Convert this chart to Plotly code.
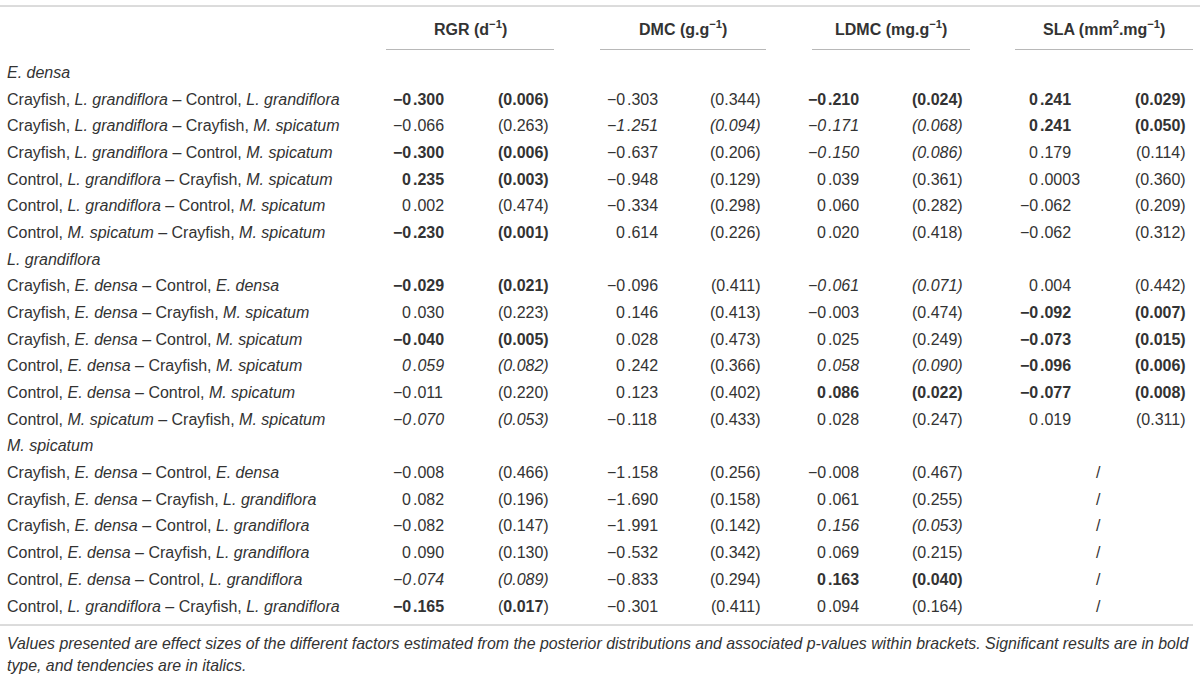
import plotly.graph_objects as go

# Table contents
groups = ["E. densa", "L. grandiflora", "M. spicatum"]

row_labels = [
    "Crayfish, <i>L. grandiflora</i> – Control, <i>L. grandiflora</i>",
    "Crayfish, <i>L. grandiflora</i> – Crayfish, <i>M. spicatum</i>",
    "Crayfish, <i>L. grandiflora</i> – Control, <i>M. spicatum</i>",
    "Control, <i>L. grandiflora</i> – Crayfish, <i>M. spicatum</i>",
    "Control, <i>L. grandiflora</i> – Control, <i>M. spicatum</i>",
    "Control, <i>M. spicatum</i> – Crayfish, <i>M. spicatum</i>",
    "Crayfish, <i>E. densa</i> – Control, <i>E. densa</i>",
    "Crayfish, <i>E. densa</i> – Crayfish, <i>M. spicatum</i>",
    "Crayfish, <i>E. densa</i> – Control, <i>M. spicatum</i>",
    "Control, <i>E. densa</i> – Crayfish, <i>M. spicatum</i>",
    "Control, <i>E. densa</i> – Control, <i>M. spicatum</i>",
    "Control, <i>M. spicatum</i> – Crayfish, <i>M. spicatum</i>",
    "Crayfish, <i>E. densa</i> – Control, <i>E. densa</i>",
    "Crayfish, <i>E. densa</i> – Crayfish, <i>L. grandiflora</i>",
    "Crayfish, <i>E. densa</i> – Control, <i>L. grandiflora</i>",
    "Control, <i>E. densa</i> – Crayfish, <i>L. grandiflora</i>",
    "Control, <i>E. densa</i> – Control, <i>L. grandiflora</i>",
    "Control, <i>L. grandiflora</i> – Crayfish, <i>L. grandiflora</i>",
]
rows_per_group = 6

trait_headers = ["RGR (d<sup>−1</sup>)", "DMC (g.g<sup>−1</sup>)",
                 "LDMC (mg.g<sup>−1</sup>)", "SLA (mm<sup>2</sup>.mg<sup>−1</sup>)"]

# b = significant (bold), i = tendency (italic), "" = plain, b* = only number bold
rgr_est = ["−0.300", "−0.066", "−0.300", "0.235", "0.002", "−0.230",
           "−0.029", "0.030", "−0.040", "0.059", "−0.011", "−0.070",
           "−0.008", "0.082", "−0.082", "0.090", "−0.074", "−0.165"]
rgr_p = ["0.006", "0.263", "0.006", "0.003", "0.474", "0.001",
         "0.021", "0.223", "0.005", "0.082", "0.220", "0.053",
         "0.466", "0.196", "0.147", "0.130", "0.089", "0.017"]
rgr_sig = ["b", "", "b", "b", "", "b",
           "b", "", "b", "i", "", "i",
           "", "", "", "", "i", "b*"]

dmc_est = ["−0.303", "−1.251", "−0.637", "−0.948", "−0.334", "0.614",
           "−0.096", "0.146", "0.028", "0.242", "0.123", "−0.118",
           "−1.158", "−1.690", "−1.991", "−0.532", "−0.833", "−0.301"]
dmc_p = ["0.344", "0.094", "0.206", "0.129", "0.298", "0.226",
         "0.411", "0.413", "0.473", "0.366", "0.402", "0.433",
         "0.256", "0.158", "0.142", "0.342", "0.294", "0.411"]
dmc_sig = ["", "i", "", "", "", "",
           "", "", "", "", "", "",
           "", "", "", "", "", ""]

ldmc_est = ["−0.210", "−0.171", "−0.150", "0.039", "0.060", "0.020",
            "−0.061", "−0.003", "0.025", "0.058", "0.086", "0.028",
            "−0.008", "0.061", "0.156", "0.069", "0.163", "0.094"]
ldmc_p = ["0.024", "0.068", "0.086", "0.361", "0.282", "0.418",
          "0.071", "0.474", "0.249", "0.090", "0.022", "0.247",
          "0.467", "0.255", "0.053", "0.215", "0.040", "0.164"]
ldmc_sig = ["b", "i", "i", "", "", "",
            "i", "", "", "i", "b", "",
            "", "", "i", "", "b", ""]

sla_est = ["0.241", "0.241", "0.179", "0.0003", "−0.062", "−0.062",
           "0.004", "−0.092", "−0.073", "−0.096", "−0.077", "0.019",
           "/", "/", "/", "/", "/", "/"]
sla_p = ["0.029", "0.050", "0.114", "0.360", "0.209", "0.312",
         "0.442", "0.007", "0.015", "0.006", "0.008", "0.311",
         "", "", "", "", "", ""]
sla_sig = ["b", "b", "", "", "", "",
           "", "b", "b", "b", "b", "",
           "", "", "", "", "", ""]

footnote = [
    "Values presented are effect sizes of the different factors estimated from the posterior "
    "distributions and associated p-values within brackets. Significant results are in bold",
    "type, and tendencies are in italics.",
]

# Layout (pixel space of a 1200x678 canvas)
W, H = 1200, 678
FONT = "Liberation Sans, Arial, Helvetica, sans-serif"
TXT = "#333333"
RULE = "#b8b8b8"
FS = 16
y_first, row_step = 72.6, 26.67
dec_x = [412, 626, 827, 1039]          # decimal point of estimates
p_right = [550, 762, 964, 1187]        # right edge of p-values
head_x = [470, 683, 891, 1104]
rule_x = [(386, 554), (600, 766), (812, 970), (1015, 1193)]
slash_x = 1098

columns = [(rgr_est, rgr_p, rgr_sig), (dmc_est, dmc_p, dmc_sig),
           (ldmc_est, ldmc_p, ldmc_sig), (sla_est, sla_p, sla_sig)]


def styled(txt, s):
    if s.startswith("b"):
        return "<b>%s</b>" % txt
    if s == "i":
        return "<i>%s</i>" % txt
    return txt


def styled_p(p, s):
    if s == "b*":
        return "(<b>%s</b>)" % p
    return styled("(%s)" % p, s)


ann = []


def add(x, y, text, anchor="left", size=FS):
    ann.append(dict(x=x, y=y, xref="x", yref="y", text=text, showarrow=False,
                    xanchor=anchor, yanchor="middle", borderpad=0,
                    font=dict(family=FONT, size=size, color=TXT)))


# header
for hx, ht in zip(head_x, trait_headers):
    add(hx, 28, "<b>%s</b>" % ht, "center")

# body rows
row_y = []
k = 0
for g, name in enumerate(groups):
    add(6, y_first + k * row_step, "<i>%s</i>" % name)
    k += 1
    for r in range(rows_per_group):
        row_y.append(y_first + k * row_step)
        k += 1

for i, lab in enumerate(row_labels):
    y = row_y[i]
    add(6, y, lab)
    for c, (est, pv, sig) in enumerate(columns):
        e, p, s = est[i], pv[i], sig[i]
        if "." in e:
            ip, fp = e.split(".", 1)
            add(dec_x[c], y, styled(ip, s), "right")
            add(dec_x[c], y, styled("." + fp, s), "left")
        else:
            add(slash_x, y, e, "center")
        if p:
            add(p_right[c], y, styled_p(p, s), "right")

# footnote
add(6, 643, "<i>%s</i>" % footnote[0], size=15.9)
add(6, 665, "<i>%s</i>" % footnote[1], size=15.9)

shapes = [dict(type="line", x0=0, x1=W, y0=6, y1=6, xref="x", yref="y",
               line=dict(color=RULE, width=1)),
          dict(type="line", x0=0, x1=1193, y0=625, y1=625, xref="x", yref="y",
               line=dict(color=RULE, width=1))]
for x0, x1 in rule_x:
    shapes.append(dict(type="line", x0=x0, x1=x1, y0=49.5, y1=49.5, xref="x", yref="y",
                       line=dict(color=RULE, width=1)))

fig = go.Figure()
fig.update_layout(
    width=W, height=H,
    margin=dict(l=0, r=0, t=0, b=0),
    paper_bgcolor="white", plot_bgcolor="white",
    xaxis=dict(range=[0, W], visible=False, fixedrange=True),
    yaxis=dict(range=[H, 0], visible=False, fixedrange=True),
    showlegend=False,
    annotations=ann,
    shapes=shapes,
)

fig.write_html("out.html", config={"displayModeBar": False},
               post_script="document.body.style.margin='0';document.body.style.overflow='hidden';")
